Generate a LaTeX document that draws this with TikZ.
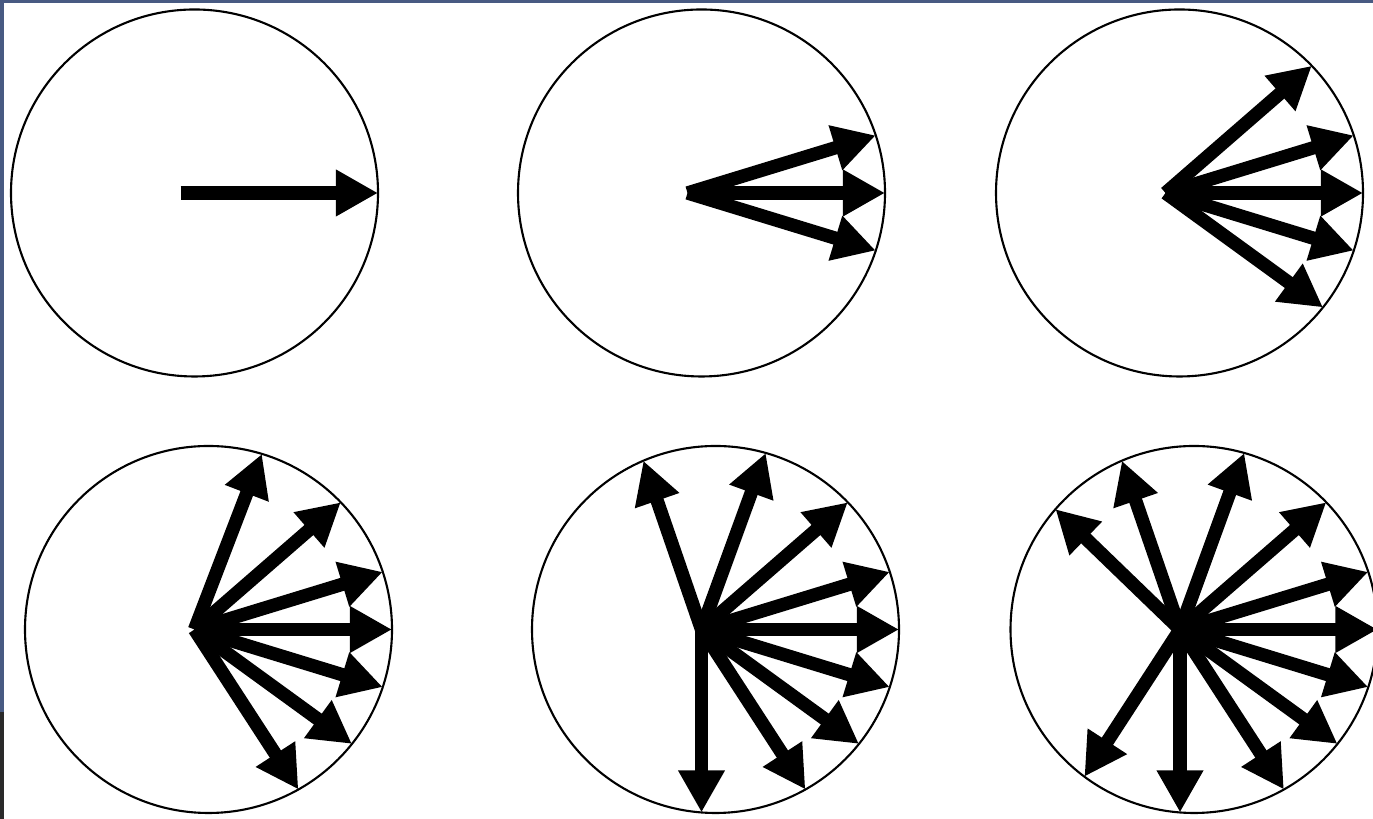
\documentclass[tikz,border=0pt]{standalone}
\usepackage{tikz}
\usetikzlibrary{arrows.meta,calc}
\definecolor{slideblue}{RGB}{72, 90, 130}
\definecolor{slidegrey}{RGB}{42, 42, 42}

\begin{document}
\begin{tikzpicture}[x=0.01cm, y=0.01cm,
        ring/.style={draw=black, line width=0.6pt},
        vec/.style={line width=3.8pt, -{Triangle[length=12pt, width=12.5pt]}}]
        % Frame of the slide
        \useasboundingbox (0,0) rectangle (1373,819);
        \fill[white] (0,0) rectangle (1373,819);
        \fill[slideblue] (0,816) rectangle (1373,819);
        \fill[slideblue] (0,107) rectangle (4,819);
        \fill[slidegrey] (0,0) rectangle (4,107);

        % Six circles: name / centre x / centre y / directions of the vectors
        \foreach \fan/\cx/\cy/\angles in {
                fan1/194.5/626/{0},
                fan2/701.5/626/{17,0,-17},
                fan3/1179.5/626/{41,17,0,-17,-36},
                fan4/208.5/189.5/{69,41,17,0,-17,-36,-57},
                fan5/715.5/189.5/{109,70,41,17,0,-17,-36,-57,-90},
                fan6/1194/189.5/{136,109,70,41,17,0,-17,-36,-57,-90,-123}} {
            \coordinate (\fan) at (\cx,\cy);
            \coordinate (\fan-o) at (\cx-14,\cy);
            \draw[ring] (\fan) circle[radius=183.5];
            % each vector ends on the rim
            \foreach \a in \angles {
                \pgfmathsetmacro{\len}{14*cos(\a)+183.5*sqrt(1-(14*sin(\a)/183.5)^2)}
                \draw[vec] (\fan-o) -- ++(\a:\len);
            }
        }
    \end{tikzpicture}
\end{document}
